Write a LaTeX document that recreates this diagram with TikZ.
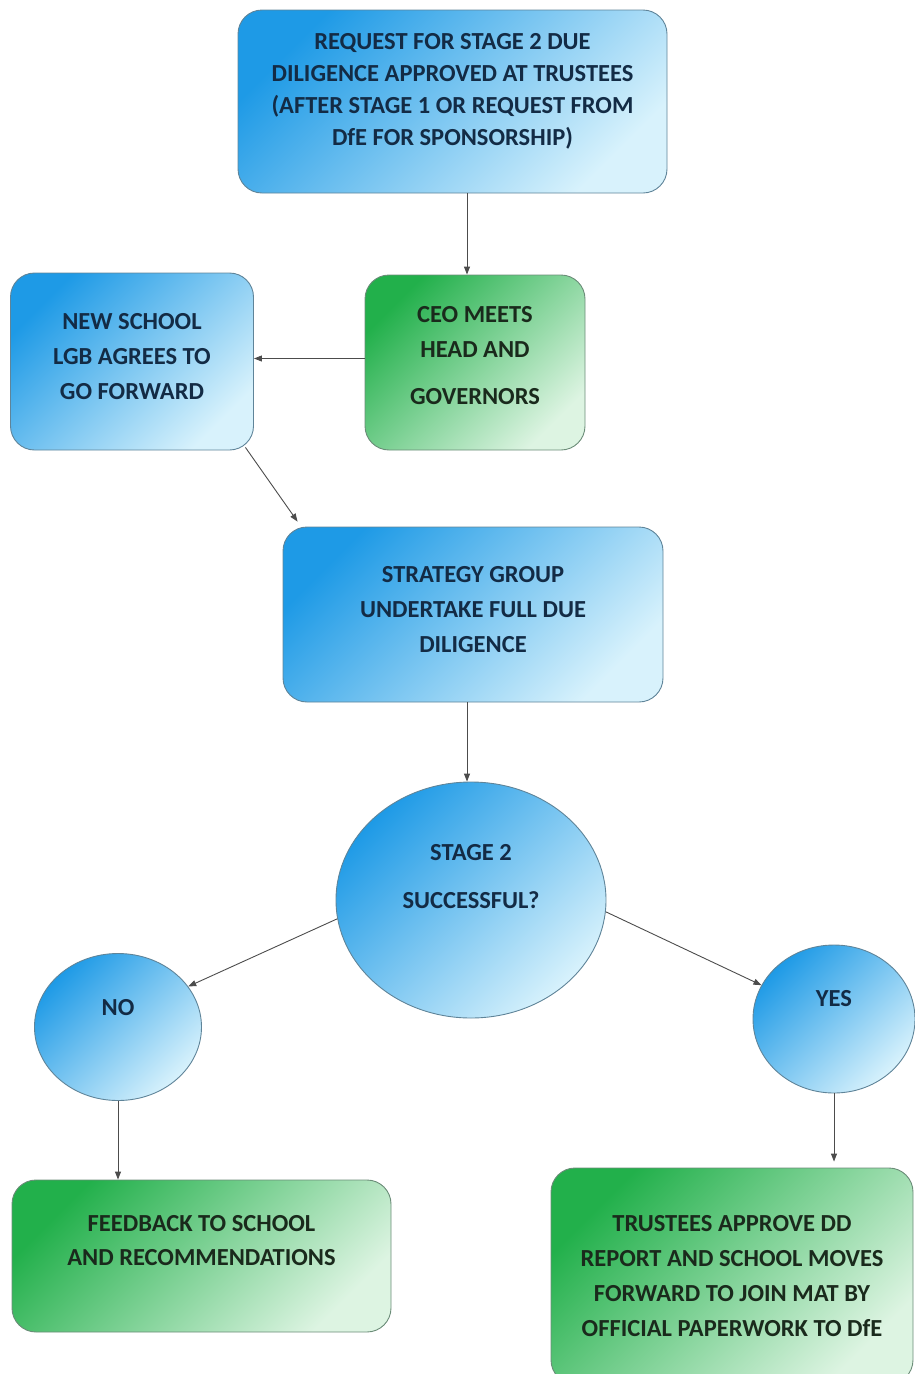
\documentclass[tikz,border=0pt]{standalone}
\usepackage{fontspec}
\setmainfont{Carlito}
\usetikzlibrary{arrows.meta,shapes.geometric}
\definecolor{bxA}{HTML}{1E9AE6}
\definecolor{bxB}{HTML}{D8F2FC}
\definecolor{gnA}{HTML}{22B04B}
\definecolor{gnB}{HTML}{DDF4E2}
\definecolor{edgeB}{HTML}{5F8499}
\definecolor{edgeG}{HTML}{6B8C78}
\definecolor{ink}{HTML}{132B45}
\definecolor{inkG}{HTML}{1A2A1C}

\begin{document}
\begin{tikzpicture}[x=1pt,y=-1pt,
  base/.style={line width=0.9pt,align=center,inner sep=0pt,
    font=\fontsize{24.5}{35}\selectfont\bfseries},
  bluebox/.style={base,draw=edgeB,rounded corners=24pt,top color=bxA,bottom color=bxB,
    shading angle=45,text=ink},
  greenbox/.style={base,draw=edgeG,rounded corners=24pt,top color=gnA,bottom color=gnB,
    shading angle=45,text=inkG},
  blueoval/.style={base,ellipse,draw=edgeB,top color=bxA,bottom color=bxB,
    shading angle=45,text=ink},
  arr/.style={-{Triangle[length=8pt,width=6pt]},line width=0.9pt,draw=black!70}]
  \useasboundingbox (0,0) rectangle (915,1374);
  % boxes
  \node[bluebox,minimum width=429,minimum height=183,font=\fontsize{24.5}{32}\selectfont\bfseries]
    (req) at (452.5,101.5) {REQUEST FOR STAGE 2 DUE\\DILIGENCE APPROVED AT TRUSTEES\\
    (AFTER STAGE 1 OR REQUEST FROM\\DfE FOR SPONSORSHIP)\\[-8pt]\mbox{}};
  \node[greenbox,minimum width=220,minimum height=175] (ceo) at (475,362.5)
    {CEO MEETS\\HEAD AND\\[12pt]GOVERNORS\\[-20pt]\mbox{}};
  \node[bluebox,minimum width=243,minimum height=177] (lgb) at (132,361.5)
    {NEW SCHOOL\\LGB AGREES TO\\GO FORWARD\\[-25pt]\mbox{}};
  \node[bluebox,minimum width=380,minimum height=175] (strat) at (473,614.5)
    {STRATEGY GROUP\\UNDERTAKE FULL DUE\\DILIGENCE\\[-25pt]\mbox{}};
  \node[blueoval,minimum width=270,minimum height=236] (succ) at (471,900)
    {STAGE 2\\[13pt]SUCCESSFUL?\\[13pt]\mbox{}};
  \node[blueoval,minimum width=167,minimum height=147] (no) at (118,1027) {NO\\[5pt]\mbox{}};
  \node[blueoval,minimum width=162,minimum height=148] (yes) at (834,1019) {YES\\[7pt]\mbox{}};
  \node[greenbox,minimum width=379,minimum height=152,font=\fontsize{24.5}{34}\selectfont\bfseries]
    (fb) at (201.5,1256) {FEEDBACK TO SCHOOL\\AND RECOMMENDATIONS\\[-3pt]\mbox{}};
  \node[greenbox,minimum width=362,minimum height=216] (trust) at (732,1276)
    {TRUSTEES APPROVE DD\\REPORT AND SCHOOL MOVES\\FORWARD TO JOIN MAT BY\\
    OFFICIAL PAPERWORK TO DfE};
  % connectors
  \draw[arr] ([xshift=14.5pt]req.south) -- ([xshift=14.5pt]req.south |- ceo.north);
  \draw[arr] ([yshift=4pt]ceo.west) -- ([yshift=4pt]ceo.west -| lgb.east);
  \draw[arr] ([xshift=-8.5pt,yshift=3pt]lgb.south east) -- ([xshift=15pt,yshift=5pt]strat.north west);
  \draw[arr] ([xshift=-4pt]succ.north |- strat.south) -- ([xshift=-4pt]succ.north);
  \draw[arr] (succ.188) -- (no.30);
  \draw[arr] (succ.-5) -- (yes.155);
  \draw[arr] (no.south) -- (no.south |- fb.north);
  \draw[arr] (yes.south) -- ([yshift=6pt]yes.south |- trust.north);
\end{tikzpicture}
\end{document}
